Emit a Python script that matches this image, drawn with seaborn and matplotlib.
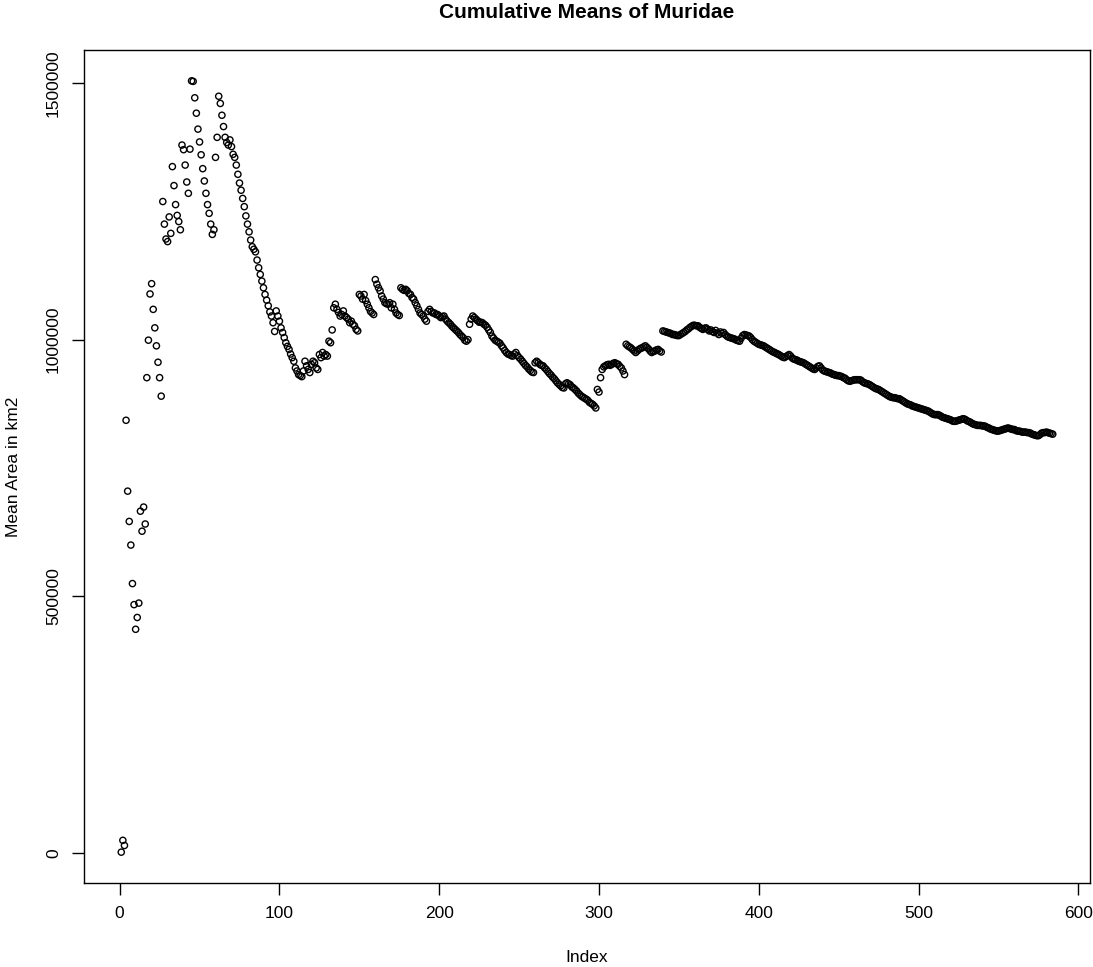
import numpy as np
import pandas as pd
import matplotlib
matplotlib.use("Agg")
import matplotlib.pyplot as plt
import seaborn as sns

sns.set_style("white")
plt.rcParams["font.family"] = ["Liberation Sans", "DejaVu Sans"]
plt.rcParams["text.color"] = "black"
plt.rcParams["axes.labelcolor"] = "black"
plt.rcParams["xtick.color"] = "black"
plt.rcParams["ytick.color"] = "black"
plt.rcParams["xtick.bottom"] = True
plt.rcParams["ytick.left"] = True

# Cumulative mean area (thousands of km2), by index
cum_mean_k_001_097 = [
    2, 25, 15, 843, 705, 646, 600, 525, 484, 436, 459, 487, 666, 627, 674, 641,
    926, 999, 1089, 1109, 1059, 1023, 988, 956, 926, 890, 1269, 1225, 1196, 1191,
    1239, 1207, 1337, 1300, 1263, 1242, 1230, 1214, 1379, 1370, 1340, 1307, 1285,
    1371, 1504, 1503, 1471, 1441, 1410, 1385, 1360, 1333, 1309, 1285, 1263, 1246,
    1225, 1205, 1214, 1355, 1394, 1474, 1460, 1437, 1415, 1394, 1384, 1379, 1389,
    1376, 1361, 1355, 1340, 1322, 1305, 1291, 1275, 1259, 1241, 1225, 1210, 1194,
    1181, 1176, 1171, 1155, 1140, 1127, 1114, 1101, 1088, 1077, 1066, 1054, 1046,
    1033, 1016]
cum_mean_k_098_218 = [
    1056, 1046, 1036, 1023, 1014, 1004, 994, 987, 981, 972, 965, 958, 945, 939, 932,
    930, 928, 939, 958, 949, 942, 936, 952, 958, 955, 945, 942, 971, 965, 975, 968, 971, 968,
    997, 994, 1019, 1062, 1069, 1059, 1053, 1046, 1049, 1056, 1046, 1043, 1040, 1033, 1036,
    1030, 1027, 1020, 1017,
    1088, 1085, 1079, 1088, 1076, 1069, 1062, 1055, 1052, 1049,
    1117, 1108, 1101, 1095, 1085, 1079, 1072, 1070, 1069, 1072, 1062, 1069, 1059, 1052,
    1049, 1047,
    1101, 1098, 1096, 1098, 1095, 1090, 1088, 1082, 1079, 1072, 1066, 1059, 1052, 1049,
    1046, 1040, 1036,
    1055, 1059, 1055, 1052, 1052, 1049, 1049, 1046, 1043, 1045, 1046, 1040, 1036, 1033,
    1030, 1026, 1023, 1020, 1017, 1014, 1010, 1007, 1004, 999, 997, 1000]
cum_mean_k_219_339 = [
    1030, 1040, 1046, 1043, 1040, 1037, 1034, 1034, 1033, 1030, 1028, 1024, 1019, 1014,
    1007, 1003, 999, 997, 995, 993, 988, 984, 979, 975, 972, 971, 969, 968, 972, 975,
    969, 965, 962, 958, 954, 950, 947, 943, 940, 937, 936,
    955, 958, 955, 952, 950, 949, 945, 942, 938, 934, 931, 927, 924, 920, 916, 913, 910,
    907, 906, 914, 916, 914, 912, 908, 906, 903, 900, 896, 893, 890, 888, 886, 884, 882,
    878, 876, 874, 871, 867,
    903, 898, 926, 942, 947, 949, 951, 952, 950, 952, 954, 955, 953, 952, 948, 945, 939, 932,
    991, 988, 986, 984, 981, 978, 975, 978, 981, 983, 984, 986, 988, 985, 982, 978, 975,
    977, 978, 980, 981, 978, 976]
cum_mean_k_340_460 = [
    1017, 1016, 1015, 1014, 1013, 1012, 1010, 1010, 1009, 1008, 1008, 1010, 1012, 1014,
    1016, 1019, 1021, 1024, 1026, 1028, 1028, 1027, 1027, 1024, 1022, 1020, 1022, 1023,
    1020, 1017, 1019, 1016, 1014, 1018, 1013, 1010, 1015, 1012, 1014, 1010, 1007, 1005,
    1004, 1003, 1002, 1001, 999, 998, 997, 1003, 1008, 1010, 1009, 1008, 1007, 1004, 1000,
    997, 995, 993, 991,
    990, 989, 988, 986, 984, 982, 980, 978, 976, 975, 973, 972, 970, 968, 966, 965, 967,
    969, 971, 968, 964, 962, 961, 960, 958, 957, 956, 955, 953, 951, 949, 947, 945, 943,
    942, 945, 948, 949, 945, 941, 939, 938, 937, 936, 935, 933, 932, 931, 930, 930, 929,
    928, 926, 925, 922, 920, 919, 920, 921, 922]
cum_mean_k_461_584 = [
    922, 922, 922, 921, 918, 916, 915, 914, 913, 911, 909, 907, 905, 904, 903, 901, 899,
    897, 895, 893, 891, 889, 888, 887, 887, 886, 885, 885, 883, 881, 879, 877, 875, 874,
    873, 871, 870, 869, 868, 867, 866, 865, 864, 863, 862, 861, 859, 857, 855, 854, 854,
    854, 853, 851, 849, 848, 847, 846, 845, 844,
    842, 841, 841, 842, 843, 844, 845, 846, 845, 843, 841, 840, 838, 836, 835, 834, 833,
    833, 833, 832, 832, 831, 829, 828, 826, 825, 824, 823, 822, 822, 823, 824, 825, 826,
    827, 828, 827, 826, 825, 825, 823, 822, 822, 821, 820, 820, 820, 819, 819, 818, 816,
    815, 814, 813, 813, 815, 818, 819, 819, 820, 819, 818, 817, 816]

x_ticks = [0, 100, 200, 300, 400, 500, 600]
y_ticks = [0, 500000, 1000000, 1500000]
y_tick_labels = ["0", "500000", "1000000", "1500000"]

values_k = (cum_mean_k_001_097 + cum_mean_k_098_218 + cum_mean_k_219_339
            + cum_mean_k_340_460 + cum_mean_k_461_584)
df = pd.DataFrame({"Index": np.arange(1, len(values_k) + 1),
                   "Mean": np.array(values_k, dtype=float) * 1000.0})

W, H = 1093, 967
fig = plt.figure(figsize=(W / 100, H / 100), dpi=100)
L, R, T, B = 84, 1090, 50, 883
ax = fig.add_axes([L / W, 1 - B / H, (R - L) / W, (B - T) / H])

sns.scatterplot(data=df, x="Index", y="Mean", ax=ax, marker="o", s=20,
                facecolors="none", edgecolor="black", linewidth=1.0, legend=False)

n = len(values_k)
xr = n - 1
ax.set_xlim(1 - 0.04 * xr, n + 0.04 * xr)
ymin, ymax = min(values_k) * 1000.0, max(values_k) * 1000.0
yr = ymax - ymin
ax.set_ylim(ymin - 0.04 * yr, ymax + 0.04 * yr)

ax.set_xticks(x_ticks)
ax.set_xticklabels([str(t) for t in x_ticks])
ax.set_yticks(y_ticks)
ax.set_yticklabels(y_tick_labels, rotation=90, va="center")
ax.tick_params(axis="both", which="major", bottom=True, left=True,
               direction="out", length=8.5, width=1.0, colors="black",
               labelcolor="black", labelsize=12.5, pad=8)
for sp in ax.spines.values():
    sp.set_color("black")
    sp.set_linewidth(1.0)
ax.set_xlabel("")
ax.set_ylabel("")

cx = (L + R) / 2 / W
cy = 1 - (T + B) / 2 / H
fig.text(cx, 1 - 13 / H, "Cumulative Means of Muridae", ha="center", va="center",
         fontsize=15, fontweight="bold", color="black")
fig.text(cx, 1 - 957 / H, "Index", ha="center", va="center", fontsize=12.5,
         color="black")
fig.text(14 / W, cy, "Mean Area in km2", ha="center", va="center",
         rotation=90, fontsize=12.5, color="black")

fig.savefig("out.png", dpi=100, facecolor="white")
